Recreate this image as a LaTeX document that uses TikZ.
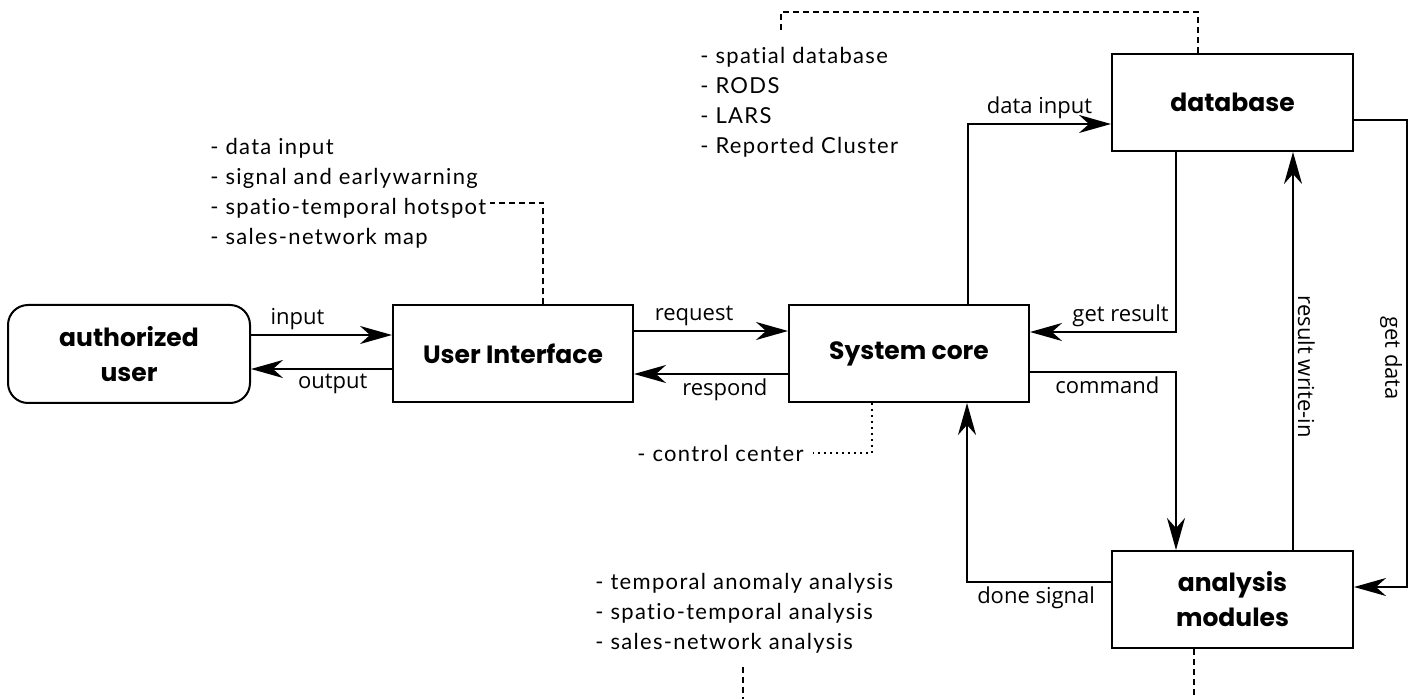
\documentclass[tikz,border=0pt]{standalone}
\usepackage{fontspec}
\setmainfont{Lato}
\newfontfamily\notefont{Lato}[LetterSpace=6, Ligatures={NoCommon}]
\newfontfamily\boxfont{Poppins}
\newfontfamily\lblfont{Open Sans}
\usetikzlibrary{arrows.meta}
\begin{document}
\begin{tikzpicture}[x=0.5pt,y=-0.5pt,
 box/.style={draw, line width=1pt, minimum width=120pt, minimum height=48.5pt, inner sep=0pt, align=center, font=\boxfont\bfseries\fontsize{12.5}{17.5}\selectfont},
 arr/.style={line width=1pt, -{Stealth[length=16pt,width=9pt,inset=5pt]}},
 lbl/.style={font=\lblfont\fontsize{11}{12}\selectfont, inner sep=2pt},
 note/.style={font=\notefont\fontsize{11}{15}\selectfont, align=left, inner sep=0pt},
 dashedline/.style={line width=0.8pt, dash pattern=on 3pt off 2pt},
 dottedline/.style={line width=0.8pt, dash pattern=on 0.8pt off 2.2pt},
]
\useasboundingbox (0,0) rectangle (1412,699);

% boxes
\node[box, rounded corners=10pt, minimum width=121pt, minimum height=49pt] (auth) at (129,354) {authorized\\user};
\node[box] (UI) at (513,354) {User Interface};
\node[box] (SC) at (909,353.5) {System core};
\node[box, minimum width=120.5pt] (DB) at (1232.5,102.5) {database};
\node[box, minimum width=120.5pt] (AM) at (1232.5,599.5) {analysis\\modules};

% annotations
\node[note, anchor=west] (n1) at (210,193) {- data input\\- signal and earlywarning\\- spatio-temporal hotspot\\- sales-network map};
\node[note, anchor=west] (n2) at (637,453) {- control center};
\node[note, anchor=west] (n3) at (700,102.5) {- spatial database\\- RODS\\- LARS\\- Reported Cluster};
\node[note, anchor=west] (n4) at (595,613) {- temporal anomaly analysis\\- spatio-temporal analysis\\- sales-network analysis};

\coordinate (n1end) at (490,203);
\coordinate (n2end) at (813,453);
\coordinate (n3end) at (781,32);
\coordinate (n4end) at (743,667);
\coordinate (n4low) at (743,699);
\coordinate (amlow) at (1194,699);

% connectors
\draw[arr] (auth.east |- 0,335) -- node[lbl, above, pos=0.33]{input} (UI.west |- 0,335);
\draw[arr] (UI.west |- 0,369) -- node[lbl, below, pos=0.42]{output} (auth.east |- 0,369);
\draw[arr] (UI.east |- 0,331) -- node[lbl, above, pos=0.39]{request} (SC.west |- 0,331);
\draw[arr] (SC.west |- 0,374) -- node[lbl, below, pos=0.41]{respond} (UI.east |- 0,374);
\draw[arr] (SC.north -| 968,0) -- (968,124) -- node[lbl, above]{data input} (DB.west |- 0,124);
\draw[arr] (DB.south -| 1176,0) -- (1176,332) -- node[lbl, above, pos=0.38]{get result} (SC.east |- 0,332);
\draw[arr] (SC.east |- 0,372) -- node[lbl, below, pos=0.53]{command} (1176,372) -- (AM.north -| 1176,0);
\draw[arr] (AM.west |- 0,582) -- node[lbl, below, pos=0.52]{done signal} (967,582) -- (SC.south -| 967,0);
\draw[arr] (AM.north -| 1293,0) -- node[lbl, rotate=-90, anchor=south, pos=0.46]{result write-in} (DB.south -| 1293,0);
\draw[arr] (DB.east |- 0,120) -- (1407,120) -- node[lbl, rotate=-90, anchor=north, pos=0.51]{get data} (1407,587) -- (AM.east |- 0,587);

% annotation links
\draw[dashedline] (UI.north -| 543,0) -- (543,203) -- (n1end);
\draw[dottedline] (SC.south -| 872,0) -- (872,453) -- (n2end);
\draw[dashedline] (DB.north -| 1198,0) -- (1198,12) -- (781,12) -- (n3end);
\draw[dashedline] (AM.south -| 1194,0) -- (amlow);
\draw[dashedline] (n4end) -- (n4low);
\end{tikzpicture}
\end{document}
